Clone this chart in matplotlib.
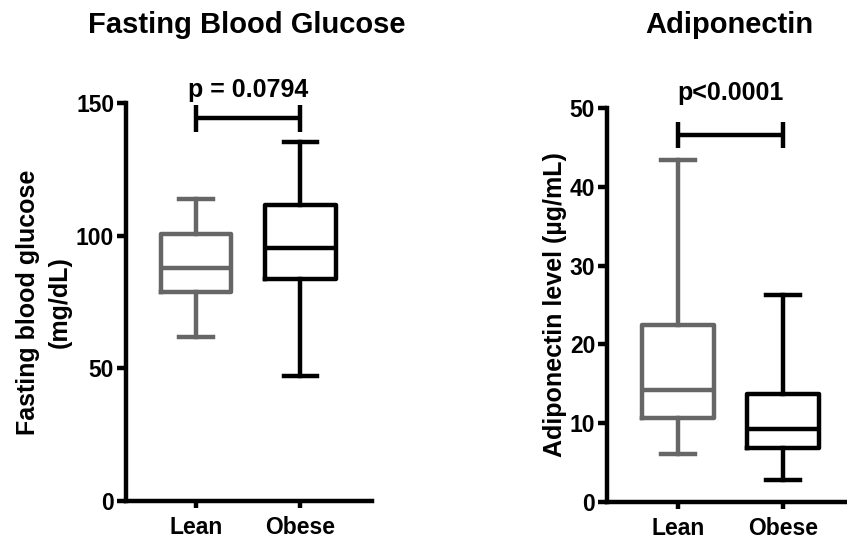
import matplotlib
matplotlib.use('Agg')
import matplotlib.pyplot as plt

plt.rcParams['font.family'] = ['Liberation Sans', 'DejaVu Sans']
plt.rcParams['font.weight'] = 'bold'

groups = ['Lean', 'Obese']
group_colors = ['#666666', 'black']

# whisker low, q1, median, q3, whisker high
glucose_lean = [61.8, 78.9, 87.8, 100.6, 113.8]
glucose_obese = [47.1, 83.7, 95.4, 111.6, 135.4]
adipo_lean = [6.1, 10.7, 14.2, 22.5, 43.4]
adipo_obese = [2.8, 6.8, 9.3, 13.7, 26.3]

glucose_ticks = [0, 50, 100, 150]
adipo_ticks = [0, 10, 20, 30, 40, 50]

glucose_p = 'p = 0.0794'
adipo_p = 'p<0.0001'


def to_stats(vals):
    lo, q1, med, q3, hi = vals
    return dict(whislo=lo, q1=q1, med=med, q3=q3, whishi=hi, fliers=[])


def panel(ax, data, ticks, ylabel, pval, bracket, text_y, xlim, labelpad):
    lw = 3.2
    for i, (vals, c) in enumerate(zip(data, group_colors)):
        ax.bxp([to_stats(vals)], positions=[i + 1], widths=0.68, capwidths=0.32,
               showfliers=False, patch_artist=False,
               boxprops=dict(color=c, linewidth=lw),
               whiskerprops=dict(color=c, linewidth=lw),
               capprops=dict(color=c, linewidth=lw),
               medianprops=dict(color=c, linewidth=lw))
    b_lo, b_mid, b_hi = bracket
    ax.plot([1, 2], [b_mid, b_mid], color='black', lw=lw, clip_on=False,
            solid_capstyle='butt')
    for xx in (1, 2):
        ax.plot([xx, xx], [b_lo, b_hi], color='black', lw=lw, clip_on=False,
                solid_capstyle='butt')
    ax.text(1.5, text_y, pval, ha='center', va='baseline', fontsize=18,
            fontweight='bold', clip_on=False)

    ax.set_xlim(*xlim)
    ax.set_ylim(ticks[0], ticks[-1])
    ax.set_yticks(ticks)
    ax.set_xticks([1, 2])
    ax.set_xticklabels(groups)
    for s in ['top', 'right']:
        ax.spines[s].set_visible(False)
    for s in ['left', 'bottom']:
        ax.spines[s].set_linewidth(3.2)
        ax.spines[s].set_capstyle('projecting')
    ax.tick_params(axis='y', length=6.5, width=3.2, labelsize=16.5, pad=2)
    ax.tick_params(axis='x', length=5, width=3.2, labelsize=16.5, pad=6)
    ax.set_ylabel(ylabel, fontsize=18, fontweight='bold', labelpad=labelpad,
                  linespacing=1.4)


fig = plt.figure(figsize=(8.47, 5.4), dpi=100)
ax1 = fig.add_axes([126 / 847, 39 / 540, 246 / 847, 398 / 540])
ax2 = fig.add_axes([607 / 847, 38.3 / 540, 239 / 847, 393.4 / 540])

panel(ax1, [glucose_lean, glucose_obese], glucose_ticks,
      'Fasting blood glucose\n(mg/dL)', glucose_p, (139.2, 144.3, 149.3),
      152.3, (0.327, 2.69), 3)
panel(ax2, [adipo_lean, adipo_obese], adipo_ticks,
      'Adiponectin level (\u00b5g/mL)', adipo_p, (44.9, 46.6, 48.2),
      51.0, (0.324, 2.60), 2)

fig.text(247 / 847, 1 - 33 / 540, 'Fasting Blood Glucose', ha='center',
         va='baseline', fontsize=21, fontweight='bold')
fig.text(729 / 847, 1 - 33 / 540, 'Adiponectin', ha='center',
         va='baseline', fontsize=21, fontweight='bold')

fig.savefig('out.png', dpi=100)
